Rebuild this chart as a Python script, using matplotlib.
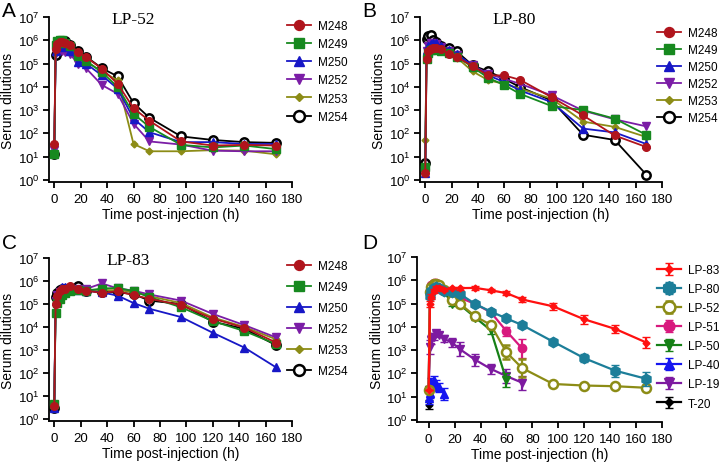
import numpy as np
import matplotlib
matplotlib.use('Agg')
import matplotlib.pyplot as plt
from matplotlib.ticker import FixedLocator, NullLocator, FixedFormatter

plt.rcParams['font.family'] = ['Liberation Sans', 'DejaVu Sans']
plt.rcParams['mathtext.fontset'] = 'custom'
plt.rcParams['mathtext.rm'] = 'Liberation Sans'

# ---------------- data ----------------
times = [0, 1, 2, 4, 6, 8, 12, 18, 24, 36, 48, 60, 72, 96, 120, 144, 168]
mice = ['M248', 'M249', 'M250', 'M252', 'M253', 'M254']

# Panel A : LP-52
a_m248 = [35, 4.4e5, 7.1e5, 8.5e5, 8.5e5, 7.6e5, 6e5, 3.2e5, 1.9e5, 6e4, 1.35e4, 1200, 350, 45, 30, 32, 30]
a_m249 = [13, 6.3e5, 8.9e5, 1.05e6, 1.05e6, 7.9e5, 5.6e5, 2.2e5, 1.3e5, 4.3e4, 9.8e3, 690, 190, 32, 25, 30, 21]
a_m250 = [15, 3.5e5, 5e5, 6e5, 5.6e5, 5e5, 3.5e5, 1.15e5, 1e5, 3.1e4, 8.3e3, 430, 112, 42, 42, 35, 35]
a_m252 = [20, 2.8e5, 3.5e5, 4e5, 3.5e5, 3.2e5, 2.5e5, 9.8e4, 6.3e4, 1.2e4, 5e3, 260, 45, 33, 18, 17, 17]
a_m253 = [15, 4e5, 5e5, 6.3e5, 6.3e5, 5.6e5, 4.5e5, 1.8e5, 1.25e5, 4.5e4, 1.9e4, 35, 17, 17, 19, 18, 12.6]
a_m254 = [13, 2.4e5, 6.3e5, 8.9e5, 9.3e5, 8.9e5, 6.3e5, 3.3e5, 2e5, 6.3e4, 2.8e4, 2000, 470, 74, 52, 42, 39]

# Panel B : LP-80
b_m248 = [2, 1.6e5, 3.3e5, 4.4e5, 4.7e5, 4.7e5, 4.1e5, 2.6e5, 1.9e5, 7.8e4, 3.1e4, 3.1e4, 2e4, 3.6e3, 590, 81, 26]
b_m249 = [3.5, 1.5e5, 2.8e5, 4e5, 4.2e5, 4e5, 3.5e5, 2.8e5, 2e5, 7e4, 2.4e4, 1.2e4, 5e3, 1.5e3, 1e3, 430, 87]
b_m250 = [2, 4e5, 5.6e5, 7e5, 8e5, 7.6e5, 5.6e5, 4e5, 2.5e5, 8.3e4, 3.1e4, 1.6e4, 7e3, 2.2e3, 160, 110, 35]
b_m252 = [2, 3.5e5, 5.6e5, 7.6e5, 8e5, 7e5, 5.2e5, 3.5e5, 2.4e5, 8.3e4, 3.6e4, 2.2e4, 1.35e4, 4.3e3, 950, 400, 200]
b_m253 = [52, 1.8e5, 2.8e5, 4e5, 4.5e5, 4.5e5, 4e5, 2.6e5, 1.8e5, 4.6e4, 1.9e4, 1.35e4, 8.3e3, 3.1e3, 320, 190, 70]
b_m254 = [5.4, 1.1e6, 1.5e6, 1.7e6, 1e6, 8.5e5, 5.6e5, 4.7e5, 3.3e5, 8.3e4, 4.6e4, 2.2e4, 9.8e3, 2.6e3, 87, 52, 1.7]

# Panel C : LP-83
c_m248 = [3.8, 9.5e4, 2.2e5, 3.6e5, 4.5e5, 4.5e5, 5.9e5, 4.3e5, 3.8e5, 3e5, 3.6e5, 2.4e5, 1.7e5, 8.9e4, 2.3e4, 9.3e3, 2.1e3]
c_m249 = [4.5, 4.2e4, 1.1e5, 1.7e5, 2.5e5, 3e5, 3.6e5, 4.1e5, 3.8e5, 4.7e5, 5e5, 3.6e5, 2e5, 7.2e4, 1.8e4, 6.6e3, 1.8e3]
c_m250 = [3, 1.4e5, 2.7e5, 4.4e5, 5.4e5, 5.4e5, 4.5e5, 4.2e5, 3.8e5, 3.2e5, 2.3e5, 1.1e5, 6.2e4, 2.7e4, 5.6e3, 1.26e3, 174]
c_m252 = [3, 1.3e5, 2.5e5, 3.3e5, 3.8e5, 3.3e5, 4.5e5, 4.5e5, 4.5e5, 7.8e5, 4.8e5, 3.8e5, 2.6e5, 1.4e5, 3.7e4, 1.2e4, 3.5e3]
c_m253 = [3, 9.5e4, 2e5, 3.3e5, 4e5, 4e5, 4.4e5, 4.5e5, 4.2e5, 4e5, 4e5, 3.3e5, 2.2e5, 1.1e5, 2.6e4, 1e4, 2.9e3]
c_m254 = [3, 2e5, 3e5, 4e5, 4.5e5, 4.5e5, 4.8e5, 5.9e5, 3.8e5, 3.3e5, 3.2e5, 2.7e5, 1.4e5, 1e5, 1.7e4, 8.3e3, 1.6e3]

# Panel D : group means (with error half-widths in log10 units)
peptides = ['LP-83', 'LP-80', 'LP-52', 'LP-51', 'LP-50', 'LP-40', 'LP-19', 'T-20']
d_lp83 = [20, 9.5e4, 2e5, 3.5e5, 4.5e5, 4.5e5, 4e5, 4.7e5, 4.6e5, 4.7e5, 3.7e5, 2.8e5, 1.5e5, 7.6e4, 2.1e4, 8.1e3, 2.1e3]
d_lp80 = [np.nan, 2.2e5, 3.5e5, 4.5e5, 5e5, 4.5e5, 3.3e5, 3.2e5, 2.6e5, 9.5e4, 4.5e4, 2.3e4, 1.2e4, 2.3e3, 450, 130, 58]
d_lp52 = [20, 3e5, 5e5, 7e5, 7e5, 6e5, 4e5, 1.4e5, 1e5, 2.8e4, 1.2e4, 800, 170, 35, 30, 28, 24]
d_lp51 = [21, 3.5e5, 6e5, 8e5, 7.5e5, 5.6e5, 4e5, 1.8e5, 1.8e5, 9.5e4, 4.2e4, 6.5e3, 1.2e3]
d_lp50 = [20, 2.5e5, 4e5, 5.6e5, 5.6e5, 4.5e5, 3.2e5, 1e5, 9e4, 2.5e4, 7e3, 50]
d_lp40 = [9, 14, 40, 50, 32, 25, 13]
d_lp19 = [20, 1.3e3, 2.8e3, 3.8e3, 5.2e3, 4.6e3, 3e3, 2.1e3, 1.1e3, 380, 155, 76, 40]
d_t20 = [4.5]
e_lp83 = [0, 0.12, 0.1, 0.08, 0.08, 0.08, 0.08, 0.06, 0.06, 0.08, 0.06, 0.1, 0.1, 0.15, 0.18, 0.18, 0.25]
e_lp80 = [0, 0.08, 0.06, 0.06, 0.06, 0.06, 0.06, 0.08, 0.06, 0.08, 0.06, 0.08, 0.12, 0.12, 0.18, 0.25, 0.3]
e_lp52 = [0, 0.06, 0.05, 0.05, 0.05, 0.05, 0.05, 0.06, 0.08, 0.1, 0.12, 0.3, 0.4, 0.1, 0.05, 0.06, 0.1]
e_lp51 = [0.1, 0.08, 0.06, 0.06, 0.06, 0.06, 0.06, 0.1, 0.1, 0.1, 0.12, 0.2, 0.4]
e_lp50 = [0.1, 0.08, 0.06, 0.06, 0.06, 0.06, 0.08, 0.1, 0.1, 0.12, 0.15, 0.3]
e_lp40 = [0.25, 0.2, 0.2, 0.2, 0.2, 0.2, 0.25]
e_lp19 = [0.1, 0.3, 0.2, 0.15, 0.1, 0.1, 0.15, 0.2, 0.3, 0.25, 0.2, 0.3, 0.3]
e_t20 = [0.2]

xticks = [0, 20, 40, 60, 80, 100, 120, 140, 160, 180]
yexps = [0, 1, 2, 3, 4, 5, 6, 7]

# ---------------- styles ----------------
mouse_colors = ['#B0141C', '#17891F', '#1717C6', '#7B1DA6', '#8C8C16', '#000000']
mouse_markers = ['o', 's', '^', 'v', 'D', 'o']
mouse_ms = [5.5, 5.5, 5.5, 5.5, 3.5, 6]
pep_colors = ['#FF1010', '#1C7E99', '#8C8C16', '#D8197E', '#168016', '#1515F0', '#7D1AA0', '#000000']
pep_markers = ['D', 'h', 'o', 'o', 'v', '^', 'v', 'D']
pep_ms = [3.5, 7.5, 6.5, 6, 6, 6, 6, 3.5]

fig = plt.figure(figsize=(7.2, 4.64), dpi=100)
W, H = 720.0, 464.0


def make_ax(left, right, top, bottom, xmin, ylab_x):
    ax = fig.add_axes([left / W, 1 - bottom / H, (right - left) / W, (bottom - top) / H])
    ax.set_yscale('log')
    ax.set_ylim(10 ** -0.09, 1e7)
    ax.set_xlim(xmin, 180)
    ax.yaxis.set_major_locator(FixedLocator([10.0 ** e for e in yexps]))
    ax.yaxis.set_major_formatter(FixedFormatter([r'$\mathregular{10^{%d}}$' % e for e in yexps]))
    ax.yaxis.set_minor_locator(NullLocator())
    ax.set_xticks(xticks)
    for s in ['top', 'right']:
        ax.spines[s].set_visible(False)
    for s in ['left', 'bottom']:
        ax.spines[s].set_linewidth(1.3)
    ax.tick_params(axis='both', direction='out', length=4, width=1.3, labelsize=9.5, pad=3)
    ax.tick_params(axis='x', pad=4)
    ax.set_xlabel('Time post-injection (h)', fontsize=10, labelpad=1.5)
    ax.set_ylabel('Serum dilutions', fontsize=10)
    ax.yaxis.set_label_coords((ylab_x - left) / (right - left), 0.5)
    return ax


def mouse_panel(ax, series, title, tx):
    n = len(series)
    for i, (vals, lab) in enumerate(zip(series, mice)):
        open_m = (i == 5)
        ax.plot(times, vals, color=mouse_colors[i], lw=1.3, marker=mouse_markers[i],
                ms=mouse_ms[i], mfc='white' if open_m else mouse_colors[i],
                mec=mouse_colors[i], mew=1.8 if open_m else 1.0,
                label=lab, zorder=10 + n - i, clip_on=False)
    ax.text(tx, 0.985, title, transform=ax.transAxes, ha='center', va='center',
            fontsize=12.5, family='Liberation Serif')


# Panel A
axA = make_ax(49, 292, 18, 183, -4, 15)
mouse_panel(axA, [a_m248, a_m249, a_m250, a_m252, a_m253, a_m254], 'LP-52', 0.345)
# Panel B
axB = make_ax(420, 662, 18, 183, -4, 386)
mouse_panel(axB, [b_m248, b_m249, b_m250, b_m252, b_m253, b_m254], 'LP-80', 0.39)
# Panel C
axC = make_ax(49, 292, 259, 422, -4, 15)
mouse_panel(axC, [c_m248, c_m249, c_m250, c_m252, c_m253, c_m254], 'LP-83', 0.325)
# Panel D
axD = make_ax(417, 662, 258, 423, -9, 384)
d_series = [d_lp83, d_lp80, d_lp52, d_lp51, d_lp50, d_lp40, d_lp19, d_t20]
d_errs = [e_lp83, e_lp80, e_lp52, e_lp51, e_lp50, e_lp40, e_lp19, e_t20]
for i, (vals, errs, lab) in enumerate(zip(d_series, d_errs, peptides)):
    t = np.array(times[:len(vals)], dtype=float)
    y = np.array(vals, dtype=float)
    e = np.array(errs, dtype=float)
    lo = y - y / 10 ** e
    hi = y * 10 ** e - y
    c = pep_colors[i]
    open_m = (i == 2)
    axD.errorbar(t, y, yerr=[lo, hi], color=c, lw=1.6, elinewidth=1.6, capsize=3,
                 capthick=1.6, marker=pep_markers[i], ms=pep_ms[i],
                 mfc='white' if open_m else c, mec=c, mew=1.8 if open_m else 1.0,
                 label=lab, zorder=10 + 8 - i, clip_on=False)

# Legends
def add_legend(ax, x, y, spacing):
    h, l = ax.get_legend_handles_labels()
    leg = ax.legend(h, l, loc='upper left', bbox_to_anchor=(x / W, 1 - y / H),
                    bbox_transform=fig.transFigure, frameon=False, fontsize=8.5,
                    handlelength=2.0, handletextpad=0.6, labelspacing=spacing,
                    borderpad=0, borderaxespad=0, markerscale=1.3)
    return leg

add_legend(axA, 287, 21, 0.52)
add_legend(axB, 657, 28, 0.42)
add_legend(axC, 287, 261, 0.76)
add_legend(axD, 657, 265, 0.6)

# Panel letters
for lab, x, y in [('A', 2, 2), ('B', 362, 2), ('C', 2, 234), ('D', 362, 234)]:
    fig.text(x / W, 1 - y / H, lab, fontsize=15, ha='left', va='top')

fig.savefig('out.png', dpi=100)
